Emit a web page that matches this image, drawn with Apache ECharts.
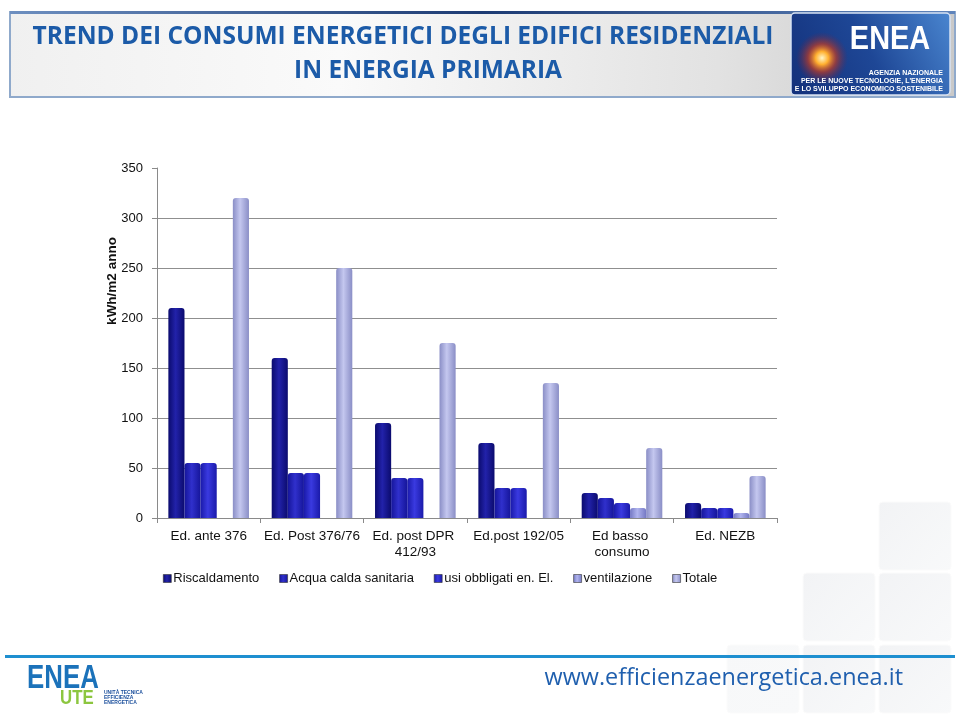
<!DOCTYPE html>
<html>
<head>
<meta charset="utf-8">
<script src="https://cdn.jsdelivr.net/npm/echarts@6/dist/echarts.min.js"></script>
<style>
html,body{margin:0;padding:0;background:#fff;}
#chart{width:960px;height:716px;}
</style>
</head>
<body>
<div id="chart"></div>
<script>
// ---- data ----
const categories = ['Ed. ante 376', 'Ed. Post 376/76', 'Ed. post DPR 412/93', 'Ed.post 192/05', 'Ed basso consumo', 'Ed. NEZB'];
const seriesNames = ['Riscaldamento', 'Acqua calda sanitaria', 'usi obbligati en. El.', 'ventilazione', 'Totale'];
const riscaldamento = [210, 160, 95, 75, 25, 15];
const acquaCalda = [55, 45, 40, 30, 20, 10];
const usiObbligati = [55, 45, 40, 30, 15, 10];
const ventilazione = [0, 0, 0, 0, 10, 5];
const totale = [320, 250, 175, 135, 70, 42];
const yTicks = [0, 50, 100, 150, 200, 250, 300, 350];

const seriesData = [riscaldamento, acquaCalda, usiObbligati, ventilazione, totale];
const palettes = [
  ['#0b0b6e', '#2222aa', '#0b0b6e'],
  ['#15159a', '#3030cc', '#15159a'],
  ['#1a1aaa', '#3a3ae0', '#1a1aaa'],
  ['#7478c4', '#b0b4ee', '#7478c4'],
  ['#8a8ec6', '#c4c7ef', '#8a8ec6']
];
function grad(p) {
  return {type: 'linear', x: 0, y: 0, x2: 1, y2: 0,
    colorStops: [{offset: 0, color: p[0]}, {offset: 0.45, color: p[1]}, {offset: 1, color: p[2]}]};
}

const chart = echarts.init(document.getElementById('chart'), null, {renderer: 'canvas'});

const tiles = [
  [879, 502], [803, 573], [879, 573], [727, 645], [803, 645], [879, 645]
];
const tileEls = tiles.map((t, i) => ({
  type: 'rect', z: -10, shape: {x: t[0], y: t[1], width: 72, height: 68, r: 4},
  style: {fill: {type: 'linear', x: 0, y: 0, x2: 1, y2: 1, colorStops: [{offset: 0, color: i === 3 ? '#f7f8f9' : '#f2f3f5'}, {offset: 1, color: '#f8f9fa'}]}, stroke: '#fbfbfb', lineWidth: 1}
}));

const option = {
  animation: false,
  backgroundColor: '#ffffff',
  textStyle: {fontFamily: 'Liberation Sans, Arial, sans-serif'},
  grid: {left: 157, right: 183, top: 168, bottom: 198, containLabel: false},
  legend: {
    data: seriesNames,
    left: 158, top: 567,
    icon: 'rect', itemWidth: 8, itemHeight: 8, itemGap: 20,
    textStyle: {fontSize: 13, color: '#111', fontFamily: 'Liberation Sans, Arial, sans-serif', padding: [0, 0, 0, -3]},
    itemStyle: {borderColor: '#333', borderWidth: 0.6}
  },
  xAxis: {
    type: 'category', data: categories,
    axisLine: {lineStyle: {color: '#8a8a8a', width: 1}},
    axisTick: {show: true, length: 5, lineStyle: {color: '#8a8a8a'}},
    axisLabel: {interval: 0, margin: 10, fontSize: 13.5, color: '#111', width: 100, overflow: 'break', lineHeight: 16}
  },
  yAxis: {
    type: 'value', min: 0, max: 350, interval: 50,
    axisLine: {show: true, lineStyle: {color: '#8a8a8a', width: 1}},
    axisTick: {show: true, length: 5, lineStyle: {color: '#8a8a8a'}},
    axisLabel: {fontSize: 13, color: '#111', margin: 14,
      formatter: v => (yTicks.indexOf(v) >= 0 ? String(v) : '')},
    splitLine: {show: true, showMaxLine: false, lineStyle: {color: '#8f8f8f', width: 1}}
  },
  series: seriesNames.map((n, i) => ({
    name: n, type: 'bar', data: seriesData[i],
    barGap: '0%', barCategoryGap: '22%',
    itemStyle: {color: grad(palettes[i]), borderRadius: [3, 3, 0, 0]}
  })),
  graphic: [
    ...tileEls,
    // header banner
    {type: 'rect', shape: {x: 10, y: 12, width: 945, height: 85},
      style: {fill: {type: 'linear', x: 0, y: 0, x2: 1, y2: 0.3, colorStops: [{offset: 0, color: '#f0f0f0'}, {offset: 0.35, color: '#fafafa'}, {offset: 0.75, color: '#e2e2e2'}, {offset: 1, color: '#c9c9c9'}]},
        stroke: '#8fa9cb', lineWidth: 2}},
    {type: 'rect', shape: {x: 10, y: 11, width: 945, height: 3},
      style: {fill: {type: 'linear', x: 0, y: 0, x2: 1, y2: 0, colorStops: [{offset: 0, color: '#6d8fc0'}, {offset: 0.5, color: '#1d3b73'}, {offset: 1, color: '#5f84bb'}]}}},
    {type: 'text', x: 403, y: 37, style: {text: 'TREND DEI CONSUMI ENERGETICI DEGLI EDIFICI RESIDENZIALI', fill: '#1c5ba8', font: 'bold 24.5px "Open Sans", sans-serif', align: 'center', verticalAlign: 'middle'}},
    {type: 'text', x: 428, y: 71, style: {text: 'IN ENERGIA PRIMARIA', fill: '#1c5ba8', font: 'bold 24.5px "Open Sans", sans-serif', align: 'center', verticalAlign: 'middle'}},
    // ENEA logo box top-right
    {type: 'rect', shape: {x: 791, y: 13, width: 159, height: 82, r: 4},
      style: {fill: {type: 'linear', x: 0, y: 1, x2: 1, y2: 0, colorStops: [{offset: 0, color: '#13307a'}, {offset: 0.5, color: '#1e4796'}, {offset: 1, color: '#4a86d0'}]}, stroke: '#d6e2f3', lineWidth: 1.5}},
    {type: 'circle', shape: {cx: 822, cy: 58, r: 26},
      style: {fill: {type: 'radial', x: 0.5, y: 0.5, r: 0.5, colorStops: [{offset: 0, color: '#fff6c8'}, {offset: 0.25, color: '#ffb030'}, {offset: 0.55, color: 'rgba(220,60,20,0.6)'}, {offset: 1, color: 'rgba(120,30,60,0)'}]}}},
    {type: 'text', x: 890, y: 40, scaleX: 0.85,
      style: {text: 'ENEA', fill: '#ffffff', font: 'bold 34px "Liberation Sans", sans-serif', align: 'center', verticalAlign: 'middle'}},
    {type: 'text', x: 943, y: 73, style: {text: 'AGENZIA NAZIONALE', fill: '#ffffff', font: 'bold 7px "Liberation Sans", sans-serif', align: 'right', verticalAlign: 'middle'}},
    {type: 'text', x: 943, y: 81, style: {text: "PER LE NUOVE TECNOLOGIE, L'ENERGIA", fill: '#ffffff', font: 'bold 7px "Liberation Sans", sans-serif', align: 'right', verticalAlign: 'middle'}},
    {type: 'text', x: 943, y: 89, style: {text: 'E LO SVILUPPO ECONOMICO SOSTENIBILE', fill: '#ffffff', font: 'bold 7px "Liberation Sans", sans-serif', align: 'right', verticalAlign: 'middle'}},
    // y axis name
    {type: 'text', x: 112, y: 281, rotation: Math.PI / 2,
      style: {text: 'kWh/m2 anno', fill: '#111', font: 'bold 13.5px "Liberation Sans", sans-serif', align: 'center', verticalAlign: 'middle'}},
    // footer
    {type: 'rect', shape: {x: 5, y: 655, width: 950, height: 3}, style: {fill: '#1e8fd0'}},
    {type: 'text', x: 27, y: 679, scaleX: 0.76,
      style: {text: 'ENEA', fill: '#1b72ba', font: 'bold 34px "Liberation Sans", sans-serif', align: 'left', verticalAlign: 'middle'}},
    {type: 'text', x: 60, y: 698, scaleX: 0.8,
      style: {text: 'UTE', fill: '#8cc63f', font: 'bold 21px "Liberation Sans", sans-serif', align: 'left', verticalAlign: 'middle'}},
    {type: 'text', x: 104, y: 693, style: {text: 'UNITÀ TECNICA', fill: '#1b4f9c', font: 'bold 5px "Liberation Sans", sans-serif', verticalAlign: 'middle'}},
    {type: 'text', x: 104, y: 698, style: {text: 'EFFICIENZA', fill: '#1b4f9c', font: 'bold 5px "Liberation Sans", sans-serif', verticalAlign: 'middle'}},
    {type: 'text', x: 104, y: 703, style: {text: 'ENERGETICA', fill: '#1b4f9c', font: 'bold 5px "Liberation Sans", sans-serif', verticalAlign: 'middle'}},
    {type: 'text', x: 903, y: 678, style: {text: 'www.efficienzaenergetica.enea.it', fill: '#1f5fae', font: '23.4px "Open Sans", sans-serif', align: 'right', verticalAlign: 'middle'}}
  ]
};
chart.setOption(option);
</script>
</body>
</html>
